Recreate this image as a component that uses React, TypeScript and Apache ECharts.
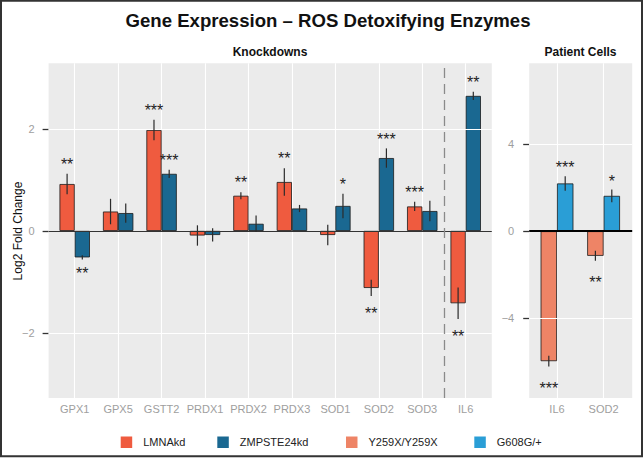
import React, { useEffect, useRef } from "react";
import * as echarts from "echarts";

// ---------- data ----------
const knockdownGenes = ["GPX1", "GPX5", "GSTT2", "PRDX1", "PRDX2", "PRDX3", "SOD1", "SOD2", "SOD3", "IL6"];
const lmnaValues = [0.92, 0.38, 1.98, -0.09, 0.69, 0.96, -0.08, -1.12, 0.48, -1.42];
const lmnaErrors = [0.2, 0.25, 0.2, 0.2, 0.07, 0.27, 0.2, 0.16, 0.09, 0.31];
const lmnaStars = ["**", "", "***", "", "**", "**", "", "**", "***", "**"];
const zmpValues = [-0.52, 0.35, 1.12, -0.08, 0.14, 0.44, 0.49, 1.43, 0.39, 2.65];
const zmpErrors = [0.04, 0.19, 0.08, 0.13, 0.16, 0.07, 0.24, 0.19, 0.2, 0.08];
const zmpStars = ["**", "", "***", "", "", "", "*", "***", "", "**"];

const patientGenes = ["IL6", "SOD2"];
const y259xValues = [-5.96, -1.13];
const y259xErrors = [0.25, 0.23];
const y259xStars = ["***", "**"];
const g608gValues = [2.19, 1.62];
const g608gErrors = [0.33, 0.29];
const g608gStars = ["***", "*"];

const leftTicks = [-2, 0, 2];
const rightTicks = [-4, 0, 4];
const separatorBefore = "IL6";

const seriesNames = ["LMNAkd", "ZMPSTE24kd", "Y259X/Y259X", "G608G/+"];
const seriesColors = ["#EF5B3F", "#1A6891", "#EE8466", "#2A9ED6"];

// ---------- styling ----------
const FONT = "Liberation Sans";
const PANEL_BG = "#EBEBEB";
const AXIS_TEXT = "#9E9E9E";
const PANEL_TOP = 63.3;
const PANEL_H = 334.7;
const LEFT_BAR_W = 15.2;
const RIGHT_BAR_W = 16.4;

const fmt = (v: number) => (v < 0 ? "\u2212" + Math.abs(v) : String(v));

function errorSeries(
  xIdx: number,
  values: number[],
  errors: number[],
  stars: string[],
  side: number,
  barW: number,
  offAbove: number,
  offBelow: number
) {
  return {
    type: "custom",
    xAxisIndex: xIdx,
    yAxisIndex: xIdx,
    z: 6,
    clip: false,
    silent: true,
    data: values.map((v, i) => [i, v, errors[i]]),
    renderItem: (params: any, api: any) => {
      const i = api.value(0);
      const v = api.value(1);
      const e = api.value(2);
      const c = api.coord([i, v]);
      const x = c[0] + (side * barW) / 2;
      const top = api.coord([i, v + e])[1];
      const bot = api.coord([i, v - e])[1];
      const s = stars[params.dataIndex];
      const children: any[] = [
        {
          type: "line",
          shape: { x1: x, y1: top, x2: x, y2: bot },
          style: { stroke: "#2b2b2b", lineWidth: 1.2 },
        },
      ];
      if (s) {
        const y = v >= 0 ? top - offAbove : bot + offBelow;
        children.push({
          type: "text",
          x,
          y: y + 3.7,
          style: {
            text: s,
            align: "center",
            verticalAlign: "middle",
            fontSize: 16,
            fontFamily: FONT,
            fill: "#222",
          },
        });
      }
      return { type: "group", children };
    },
  };
}

function legendFor(name: string, left: number) {
  return {
    data: [name],
    left,
    top: 436.5,
    padding: 0,
    icon: "rect",
    itemWidth: 11.5,
    itemHeight: 11.5,
    selectedMode: false,
    itemStyle: { borderWidth: 0 },
    textStyle: { fontSize: 11, color: "#222", fontFamily: FONT, padding: [0, 0, 0, 6] },
  };
}

export default function App() {
  const ref = useRef<HTMLDivElement>(null);

  useEffect(() => {
    if (!ref.current) return;
    const chart = echarts.init(ref.current, undefined, { renderer: "svg" });

    const sepX = knockdownGenes.indexOf(separatorBefore) + 1 - 0.5;

    const catAxis = (gridIndex: number, data: string[]) => ({
      gridIndex,
      type: "category",
      data,
      boundaryGap: false,
      axisLine: { show: false },
      axisTick: { show: false },
      axisLabel: { interval: 0, color: AXIS_TEXT, fontSize: 11, fontFamily: FONT, margin: 5 },
      splitLine: { show: true, interval: 0, lineStyle: { color: "#FFFFFF", width: 1.1 } },
    });

    const valYAxis = (gridIndex: number, min: number, max: number, ticks: number[], margin: number) => ({
      gridIndex,
      type: "value",
      min,
      max,
      axisLine: { show: false },
      axisTick: { show: true, length: 6, customValues: ticks, lineStyle: { color: "#333", width: 1.3 } },
      axisLabel: {
        customValues: ticks,
        color: AXIS_TEXT,
        fontSize: 11,
        fontFamily: FONT,
        margin,
        formatter: (v: number) => fmt(v),
      },
      splitLine: { show: false },
    });

    const option: any = {
      animation: false,
      textStyle: { fontFamily: FONT },
      grid: [
        { left: 48.6, top: PANEL_TOP, width: 443.2, height: PANEL_H, show: true, backgroundColor: PANEL_BG, borderWidth: 0 },
        { left: 74.7, top: PANEL_TOP, width: 391, height: PANEL_H },
        { left: 529.2, top: PANEL_TOP, width: 103, height: PANEL_H, show: true, backgroundColor: PANEL_BG, borderWidth: 0 },
        { left: 557, top: PANEL_TOP, width: 46.6, height: PANEL_H },
      ],
      xAxis: [
        { gridIndex: 0, type: "value", min: 0.4, max: knockdownGenes.length + 0.6, show: false },
        catAxis(1, knockdownGenes),
        { gridIndex: 2, type: "value", min: 0.4, max: patientGenes.length + 0.6, show: false },
        catAxis(3, patientGenes),
      ],
      yAxis: [
        valYAxis(0, -3.28, 3.29, leftTicks, 14),
        { gridIndex: 1, type: "value", min: -3.28, max: 3.29, show: false },
        valYAxis(2, -7.65, 7.7, rightTicks, 15),
        { gridIndex: 3, type: "value", min: -7.65, max: 7.7, show: false },
      ],
      legend: [
        legendFor(seriesNames[0], 120.7),
        legendFor(seriesNames[1], 217.3),
        legendFor(seriesNames[2], 346),
        legendFor(seriesNames[3], 474.3),
      ],
      graphic: [
        {
          type: "text",
          x: 328,
          y: 20,
          style: {
            text: "Gene Expression \u2013 ROS Detoxifying Enzymes",
            align: "center",
            verticalAlign: "middle",
            fontSize: 18.6,
            fontWeight: "bold",
            fontFamily: FONT,
            fill: "#111",
          },
        },
        {
          type: "text",
          x: 270,
          y: 51.7,
          style: { text: "Knockdowns", align: "center", verticalAlign: "middle", fontSize: 12, fontWeight: "bold", fontFamily: FONT, fill: "#111" },
        },
        {
          type: "text",
          x: 580.5,
          y: 51.7,
          style: { text: "Patient Cells", align: "center", verticalAlign: "middle", fontSize: 12, fontWeight: "bold", fontFamily: FONT, fill: "#111" },
        },
        {
          type: "text",
          x: 17.5,
          y: 231,
          rotation: Math.PI / 2,
          style: { text: "Log2 Fold Change", align: "center", verticalAlign: "middle", fontSize: 12, fontFamily: FONT, fill: "#111" },
        },
        {
          type: "rect",
          shape: { x: 1, y: 0.8, width: 641, height: 455.5 },
          style: { fill: "none", stroke: "#333", lineWidth: 2 },
          silent: true,
        },
      ],
      series: [
        // white horizontal gridlines (left)
        {
          type: "line",
          xAxisIndex: 0,
          yAxisIndex: 0,
          data: [],
          z: 1,
          silent: true,
          markLine: {
            silent: true,
            symbol: "none",
            label: { show: false },
            lineStyle: { color: "#FFFFFF", width: 1.1, type: "solid" },
            data: leftTicks.map((v) => ({ yAxis: v })),
          },
        },
        {
          type: "line",
          xAxisIndex: 2,
          yAxisIndex: 2,
          data: [],
          z: 1,
          silent: true,
          markLine: {
            silent: true,
            symbol: "none",
            label: { show: false },
            lineStyle: { color: "#FFFFFF", width: 1.1, type: "solid" },
            data: rightTicks.map((v) => ({ yAxis: v })),
          },
        },
        // bars
        {
          name: seriesNames[0],
          type: "bar",
          xAxisIndex: 1,
          yAxisIndex: 1,
          data: lmnaValues,
          barWidth: LEFT_BAR_W,
          barGap: "0%",
          clip: false,
          z: 3,
          itemStyle: { color: seriesColors[0], borderColor: "#1a1a1a", borderWidth: 0.8 },
        },
        {
          name: seriesNames[1],
          type: "bar",
          xAxisIndex: 1,
          yAxisIndex: 1,
          data: zmpValues,
          barWidth: LEFT_BAR_W,
          barGap: "0%",
          clip: false,
          z: 3,
          itemStyle: { color: seriesColors[1], borderColor: "#1a1a1a", borderWidth: 0.8 },
        },
        {
          name: seriesNames[2],
          type: "bar",
          xAxisIndex: 3,
          yAxisIndex: 3,
          data: y259xValues,
          barWidth: RIGHT_BAR_W,
          barGap: "0%",
          clip: false,
          z: 3,
          itemStyle: { color: seriesColors[2], borderColor: "#1a1a1a", borderWidth: 0.8 },
        },
        {
          name: seriesNames[3],
          type: "bar",
          xAxisIndex: 3,
          yAxisIndex: 3,
          data: g608gValues,
          barWidth: RIGHT_BAR_W,
          barGap: "0%",
          clip: false,
          z: 3,
          itemStyle: { color: seriesColors[3], borderColor: "#1a1a1a", borderWidth: 0.8 },
        },
        // zero lines and separator
        {
          type: "line",
          xAxisIndex: 0,
          yAxisIndex: 0,
          data: [],
          z: 5,
          silent: true,
          markLine: {
            silent: true,
            symbol: "none",
            label: { show: false },
            data: [
              { yAxis: 0, lineStyle: { color: "#333", width: 1.1, type: "solid" } },
              { xAxis: sepX, lineStyle: { color: "#8a8a8a", width: 1.3, type: [10, 6] } },
            ],
          },
        },
        {
          type: "line",
          xAxisIndex: 2,
          yAxisIndex: 2,
          data: [],
          z: 5,
          silent: true,
          markLine: {
            silent: true,
            symbol: "none",
            label: { show: false },
            data: [{ yAxis: 0, lineStyle: { color: "#000", width: 2, type: "solid" } }],
          },
        },
        errorSeries(1, lmnaValues, lmnaErrors, lmnaStars, -1, LEFT_BAR_W, 13, 14),
        errorSeries(1, zmpValues, zmpErrors, zmpStars, 1, LEFT_BAR_W, 13, 10),
        errorSeries(3, y259xValues, y259xErrors, y259xStars, -1, RIGHT_BAR_W, 12, 18),
        errorSeries(3, g608gValues, g608gErrors, g608gStars, 1, RIGHT_BAR_W, 12, 18),
      ],
    };

    chart.setOption(option);
    return () => chart.dispose();
  }, []);

  return (
    <div
      ref={ref}
      style={{ position: "fixed", left: 0, top: 0, width: 644, height: 458, background: "#fff" }}
    />
  );
}
